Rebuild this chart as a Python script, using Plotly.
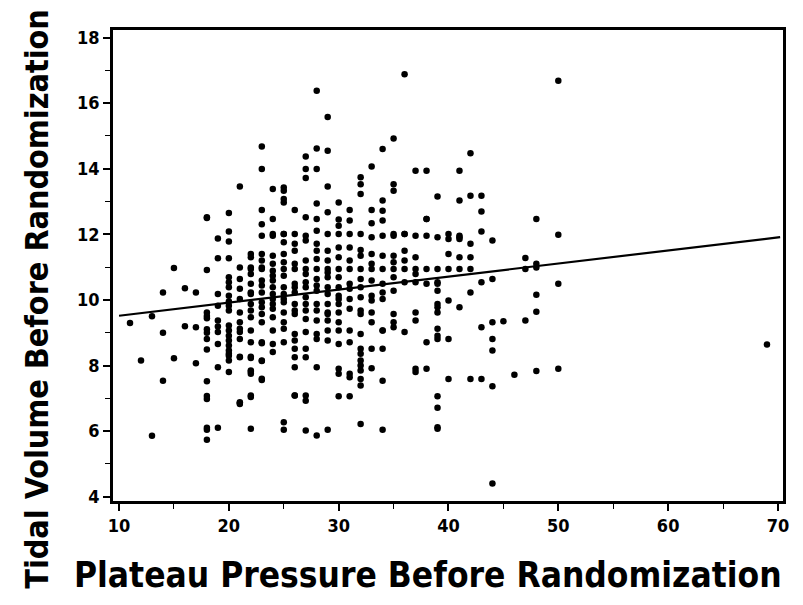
import plotly.graph_objects as go

# Plateau pressure levels (x) and the tidal volumes observed at each level (y)
pressure_levels = [11, 12, 13, 14, 15, 16, 17, 18, 19, 20, 21, 22, 23, 24, 25, 26, 27, 28, 29, 30,
                   31, 32, 33, 34, 35, 36, 37, 38, 39, 40, 41, 42, 43, 44, 45, 46, 47, 48, 50, 69]
tidal_by_level = [
    [9.30],
    [8.15],
    [9.50, 5.86],
    [10.23, 7.54, 9.00],
    [8.22, 10.97],
    [9.20, 10.36],
    [8.07, 10.23, 9.17],
    [12.50, 12.52, 10.91, 9.51, 9.44, 9.00, 8.49, 7.07, 6.98, 6.04, 5.74, 9.11, 7.52, 6.10, 9.62, 8.81],
    [11.87, 10.18, 9.82, 7.95, 6.10, 9.19, 11.27, 9.02, 9.37, 8.66],
    [12.65, 12.09, 11.78, 11.27, 10.69, 10.54, 10.39, 9.95, 9.68, 9.07, 8.91, 8.76, 8.61, 8.46, 8.30, 8.15, 7.80, 9.22, 8.36, 9.82, 10.13],
    [13.46, 10.99, 10.34, 10.03, 9.12, 9.02, 8.25, 6.88, 6.83, 9.32, 8.27, 6.86, 9.62, 10.64, 8.81],
    [11.30, 10.99, 10.79, 10.18, 9.68, 9.47, 9.07, 8.71, 8.23, 7.85, 7.75, 7.09, 7.04, 6.07, 11.40, 10.23, 10.94, 8.27, 7.81, 9.88, 10.49],
    [14.68, 13.99, 12.74, 12.31, 11.96, 11.40, 10.99, 10.59, 10.23, 9.93, 9.57, 9.32, 8.68, 8.15, 7.56, 10.94, 8.71, 8.14, 7.60, 11.20, 9.78, 10.44],
    [13.38, 12.47, 12.01, 11.35, 10.89, 10.59, 10.39, 10.03, 9.73, 9.47, 9.07, 8.66, 8.41, 11.96, 10.18, 10.74, 9.88, 11.10],
    [13.33, 13.08, 12.97, 12.01, 11.76, 11.40, 10.94, 10.74, 10.39, 10.18, 9.93, 9.62, 9.12, 8.71, 12.01, 6.27, 6.04, 13.43, 10.03, 11.15, 9.32],
    [12.74, 12.01, 11.50, 11.10, 10.94, 10.49, 10.23, 9.68, 9.57, 8.96, 8.51, 8.25, 7.95, 7.09, 7.09, 10.39, 8.76, 9.88, 11.71],
    [14.37, 13.72, 12.52, 11.96, 11.81, 11.20, 10.79, 10.54, 10.39, 10.08, 9.68, 9.42, 9.02, 8.51, 8.25, 6.93, 6.02, 13.99, 7.09, 10.94, 9.88],
    [16.38, 12.94, 13.99, 12.47, 12.11, 11.71, 11.25, 10.94, 10.64, 10.28, 9.88, 9.68, 9.37, 8.96, 8.81, 5.87, 14.62, 7.95, 10.44, 11.50],
    [15.58, 14.55, 13.46, 12.67, 12.01, 11.50, 10.94, 10.69, 10.39, 9.88, 9.57, 9.37, 9.07, 8.76, 6.04, 9.62, 10.84, 10.18, 11.20],
    [12.97, 12.45, 12.26, 12.01, 11.60, 10.94, 10.69, 10.39, 10.13, 10.03, 9.88, 9.62, 9.32, 8.66, 7.90, 7.75, 7.06, 11.30, 9.07],
    [12.74, 12.01, 11.60, 10.94, 10.49, 10.03, 9.07, 7.75, 7.64, 7.06, 12.42, 10.34, 8.71, 9.73, 11.20],
    [13.74, 13.53, 12.01, 11.35, 10.94, 10.39, 10.08, 9.68, 9.57, 8.96, 8.51, 8.36, 8.15, 8.00, 7.85, 7.59, 7.39, 6.22, 13.23, 11.52, 10.64],
    [14.07, 12.74, 12.34, 11.91, 11.40, 10.94, 10.59, 9.98, 9.62, 8.51, 7.92, 10.13, 11.10, 9.32],
    [14.60, 13.03, 12.72, 12.42, 11.96, 11.35, 10.94, 10.49, 10.03, 9.07, 8.51, 7.54, 6.04, 9.07, 10.23],
    [14.92, 13.53, 13.33, 11.96, 11.35, 10.94, 10.28, 9.57, 9.32, 9.17, 12.01, 11.15, 10.69],
    [16.88, 12.01, 11.50, 10.94, 10.54, 9.02, 12.01, 11.20],
    [13.94, 11.96, 11.30, 10.79, 10.54, 9.62, 9.37, 7.80, 7.90, 10.94],
    [13.94, 12.47, 12.47, 10.49, 8.71, 7.90, 10.94, 11.96],
    [13.15, 10.94, 10.54, 10.49, 10.28, 9.88, 9.78, 9.62, 9.12, 8.91, 8.81, 7.06, 6.71, 6.12, 6.07, 11.91],
    [12.01, 11.86, 10.94, 9.98, 7.59, 8.81, 11.40],
    [13.94, 13.03, 11.96, 11.30, 10.94, 9.78, 11.91, 11.86],
    [14.47, 13.18, 11.71, 11.30, 10.94, 10.23, 7.59],
    [13.18, 12.70, 12.09, 10.54, 9.17, 7.59],
    [11.81, 10.64, 9.32, 8.46, 4.40, 8.81, 7.37],
    [9.35],
    [7.72],
    [11.28, 10.94, 9.37],
    [12.47, 11.10, 10.99, 10.16, 9.64, 7.83],
    [16.68, 11.99, 10.49, 7.90],
    [8.64],
]

# Fitted regression line (intercept, slope) and its x extent
fit_intercept = 9.12
fit_slope = 0.0398
fit_x = [10, 70.2]

x_title = "Plateau Pressure Before Randomization"
y_title = "Tidal Volume Before Randomization"

xs, ys = [], []
for p, vols in zip(pressure_levels, tidal_by_level):
    for v in vols:
        xs.append(p)
        ys.append(v)

fit_y = [fit_intercept + fit_slope * x for x in fit_x]

fig = go.Figure()
fig.add_trace(go.Scatter(x=xs, y=ys, mode="markers",
                         marker=dict(color="black", size=6.5, symbol="circle",
                                     line=dict(width=0)),
                         showlegend=False))
fig.add_trace(go.Scatter(x=fit_x, y=fit_y, mode="lines",
                         line=dict(color="black", width=2.2), showlegend=False))

cond = "DejaVu Sans Condensed, Liberation Sans Narrow, Liberation Sans, Arial"
tick_font = dict(family=cond, size=18, color="black")

fig.update_layout(
    width=803, height=605,
    margin=dict(l=113, r=20, t=30, b=104),
    paper_bgcolor="white", plot_bgcolor="white",
    xaxis=dict(range=[9.45, 70.46], tickvals=[10, 20, 30, 40, 50, 60, 70],
               ticktext=["<b>10</b>", "<b>20</b>", "<b>30</b>", "<b>40</b>", "<b>50</b>", "<b>60</b>", "<b>70</b>"],
               ticks="outside", ticklen=7, tickwidth=1.5, tickcolor="black",
               minor=dict(tickvals=[15, 25, 35, 45, 55, 65], ticks="outside", ticklen=5,
                          tickwidth=1.2, tickcolor="black"),
               showline=True, linecolor="black", linewidth=2.5, mirror=True,
               showgrid=False, zeroline=False, tickfont=tick_font),
    yaxis=dict(range=[3.87, 18.23], tickvals=[4, 6, 8, 10, 12, 14, 16, 18],
               ticktext=["<b>4</b>", "<b>6</b>", "<b>8</b>", "<b>10</b>", "<b>12</b>", "<b>14</b>", "<b>16</b>", "<b>18</b>"],
               ticks="outside", ticklen=7, tickwidth=1.5, tickcolor="black",
               minor=dict(tickvals=[5, 7, 9, 11, 13, 15, 17], ticks="outside", ticklen=5,
                          tickwidth=1.2, tickcolor="black"),
               showline=True, linecolor="black", linewidth=2.5, mirror=True,
               showgrid=False, zeroline=False, tickfont=tick_font),
    annotations=[
        dict(text="<b>" + x_title + "</b>", xref="paper", yref="paper", x=0.47, y=-0.157,
             xanchor="center", yanchor="middle", showarrow=False,
             font=dict(family=cond, size=35, color="black")),
        dict(text="<b>" + y_title + "</b>", xref="paper", yref="paper", x=-0.113, y=0.43,
             xanchor="center", yanchor="middle", textangle=-90, showarrow=False,
             font=dict(family=cond, size=32, color="black")),
    ],
)

fig.write_html("out.html", config={"displayModeBar": False},
               post_script="document.body.style.margin='0';")
